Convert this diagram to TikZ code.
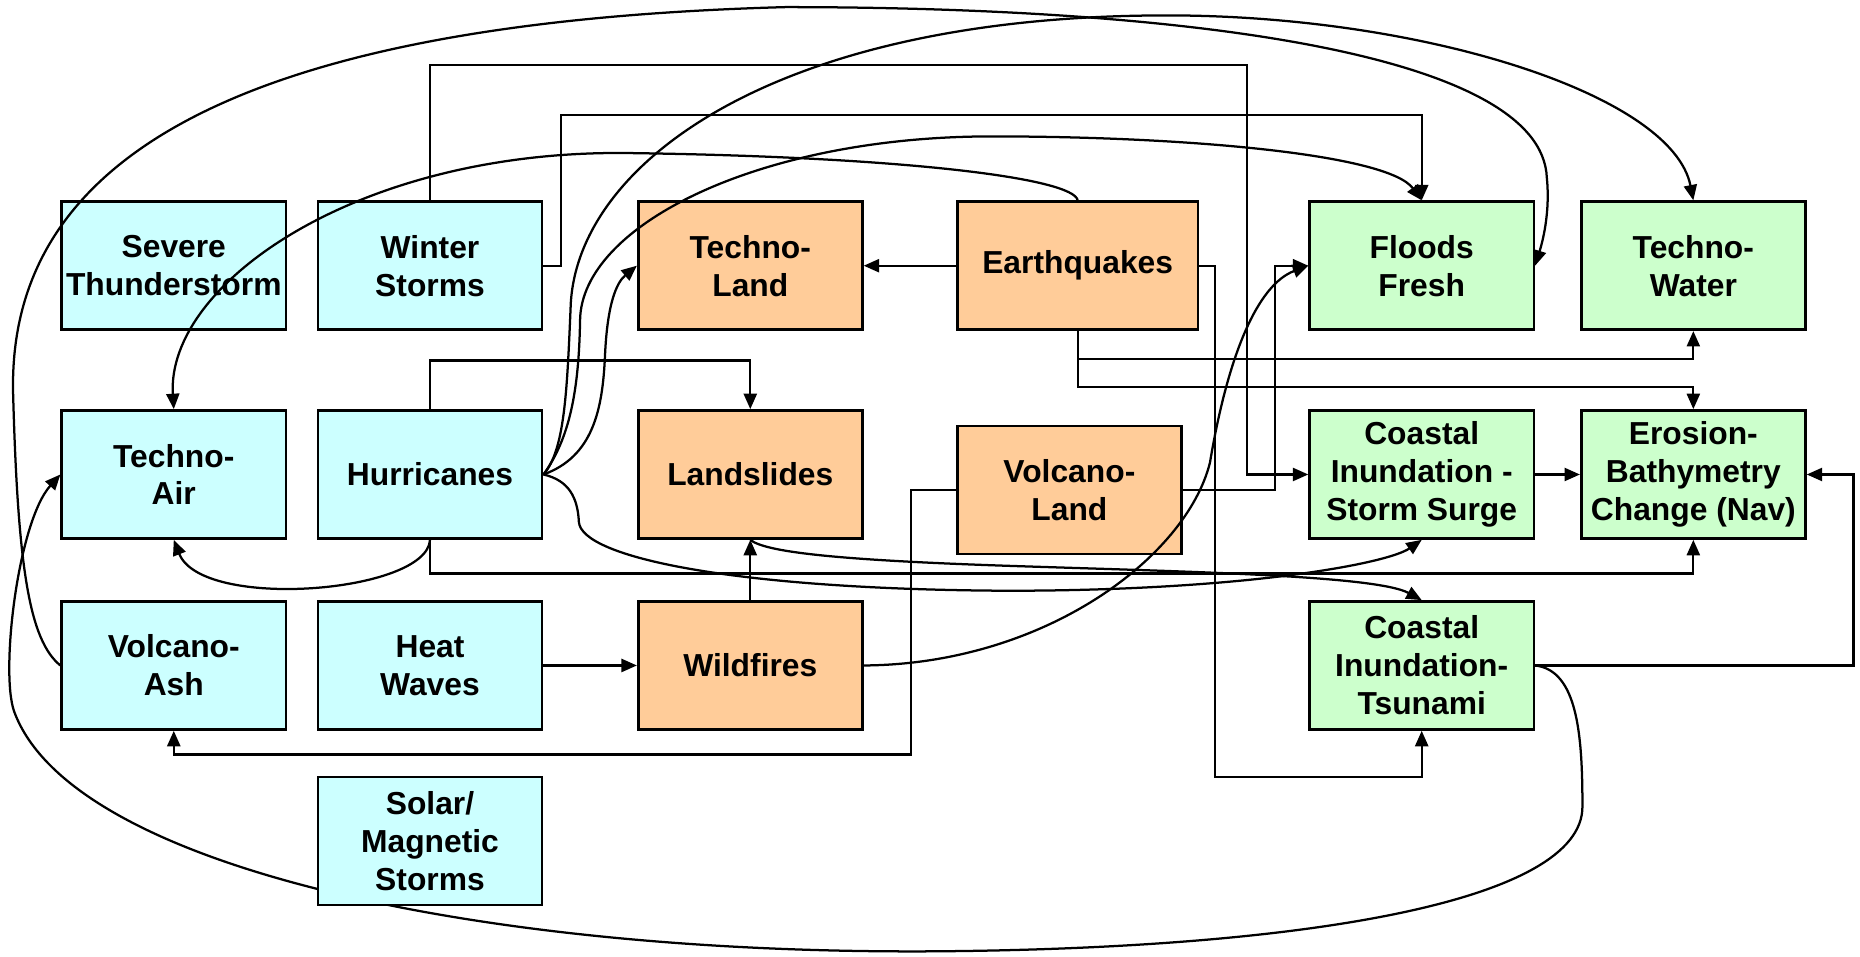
\documentclass[tikz,border=0pt]{standalone}
\usepackage{fontspec}
\setmainfont{Liberation Sans}
\usetikzlibrary{arrows.meta}
\pgfdeclarelayer{background}
\pgfsetlayers{background,main}
\definecolor{skyfill}{HTML}{CCFFFF}
\definecolor{landfill}{HTML}{FFCC99}
\definecolor{waterfill}{HTML}{CCFFCC}

\begin{document}
\begin{tikzpicture}[x=0.5pt,y=-0.5pt,
  hazard/.style={draw, line width=1.1pt, align=center, inner sep=0pt,
    minimum width=94.5pt, minimum height=54pt,
    font=\bfseries\fontsize{13.4}{16}\selectfont},
  sky/.style={hazard, fill=skyfill},
  land/.style={hazard, fill=landfill},
  water/.style={hazard, fill=waterfill},
  link/.style={line width=0.95pt, -{Triangle[length=6.5pt,width=5.5pt]}},
]
\useasboundingbox (0,0) rectangle (1568,806);

% hazard boxes
\node[sky] (severe) at (146.5,224) {Severe\\Thunderstorm};
\node[sky] (winter) at (362.5,224) {Winter\\Storms};
\node[land] (techland) at (632.5,224) {Techno-\\Land};
\node[land, minimum width=101.5pt] (quake) at (908.5,224) {Earthquakes};
\node[water] (floods) at (1198.5,224) {Floods\\Fresh};
\node[water] (techwater) at (1427.5,224) {Techno-\\Water};

\node[sky] (techair) at (146.5,400) {Techno-\\Air};
\node[sky] (hurricane) at (362.5,400) {Hurricanes};
\node[land] (slide) at (632.5,400) {Landslides};
\node[land] (vland) at (901.5,413) {Volcano-\\Land};
\node[water] (surge) at (1198.5,400) {Coastal\\Inundation -\\Storm Surge};
\node[water] (erosion) at (1427.5,400) {Erosion-\\Bathymetry\\Change (Nav)};

\node[sky] (vash) at (146.5,561) {Volcano-\\Ash};
\node[sky] (heat) at (362.5,561) {Heat\\Waves};
\node[land] (fire) at (632.5,561) {Wildfires};
\node[water] (tsunami) at (1198.5,561) {Coastal\\Inundation-\\Tsunami};

\node[sky] (solar) at (362.5,709) {Solar/\\Magnetic\\Storms};

% elbow connectors
\draw[link] (winter.north) |- (1051.5,55) |- (surge.west);
\draw[link] (winter.east) -| (473,97) -| (floods.north);
\draw[link] (quake.west) -- (techland.east);
\draw[link] (quake.east) -| (1024.5,655) -| (tsunami.south);
\draw[link] (quake.south) |- (1427.5,302.5) -- (techwater.south);
\draw[link] (quake.south) |- (1427.5,326) -- (erosion.north);
\draw[link] (vland.east) -| (1075,224) -- (floods.west);
\draw[link] (vland.west) -| (768,636) -| (vash.south);
\draw[link] (surge.east) -- (erosion.west);
\draw[link] (tsunami.east) -| (1562.5,400) -- (erosion.east);
\draw[link] (hurricane.north) |- (632.5,304) -- (slide.north);
\draw[link] (hurricane.south) |- (1427.5,483.5) -- (erosion.south);
\draw[link] (fire.north) -- (slide.south);
\draw[link] (heat.east) -- (fire.west);

% curved connectors
\draw[link] (quake.north) .. controls (905,150) and (760,132) .. (527,129)
  .. controls (300,127) and (140,240) .. (techair.north);
\draw[link] (hurricane.east) .. controls (476,380) and (478,330) .. (481,260)
  .. controls (484,140) and (650,13) .. (984,13)
  .. controls (1200,13) and (1410,80) .. (techwater.north);
\draw[link] (hurricane.east) .. controls (480,370) and (488,330) .. (489,270)
  .. controls (490,190) and (640,115) .. (836,115)
  .. controls (1000,115) and (1170,130) .. (floods.north);
\draw[link] (hurricane.east) .. controls (500,385) and (508,345) .. (510,300)
  .. controls (512,255) and (520,238) .. (techland.west);
\draw[link] (hurricane.east) .. controls (480,405) and (487,420) .. (488,440)
  .. controls (490,470) and (620,497) .. (850,498)
  .. controls (1050,498) and (1170,475) .. (surge.south);
\draw[link] (slide.south) .. controls (645,465) and (700,472) .. (850,477)
  .. controls (1000,482) and (1160,485) .. (tsunami.north);
\draw[link] (hurricane.south) .. controls (360,500) and (170,515) .. (techair.south);
\draw[link] (fire.east) .. controls (880,560) and (1000,470) .. (1020,390)
  .. controls (1035,300) and (1060,240) .. (floods.west);
\draw[link] (vash.west) .. controls (25,540) and (15,480) .. (11,330)
  .. controls (8,160) and (150,20) .. (662,6)
  .. controls (1000,6) and (1300,45) .. (1304,150)
  .. controls (1307,180) and (1300,205) .. (floods.east);

% long connector running behind the boxes
\begin{pgfonlayer}{background}
\fill[white] (0,0) rectangle (1568,806);
\draw[link] (tsunami.east) .. controls (1330,565) and (1334,620) .. (1334,680)
  .. controls (1334,760) and (1100,800) .. (784,802)
  .. controls (400,804) and (60,730) .. (12,600)
  .. controls (0,567) and (15,440) .. (techair.west);
\end{pgfonlayer}
\end{tikzpicture}
\end{document}
